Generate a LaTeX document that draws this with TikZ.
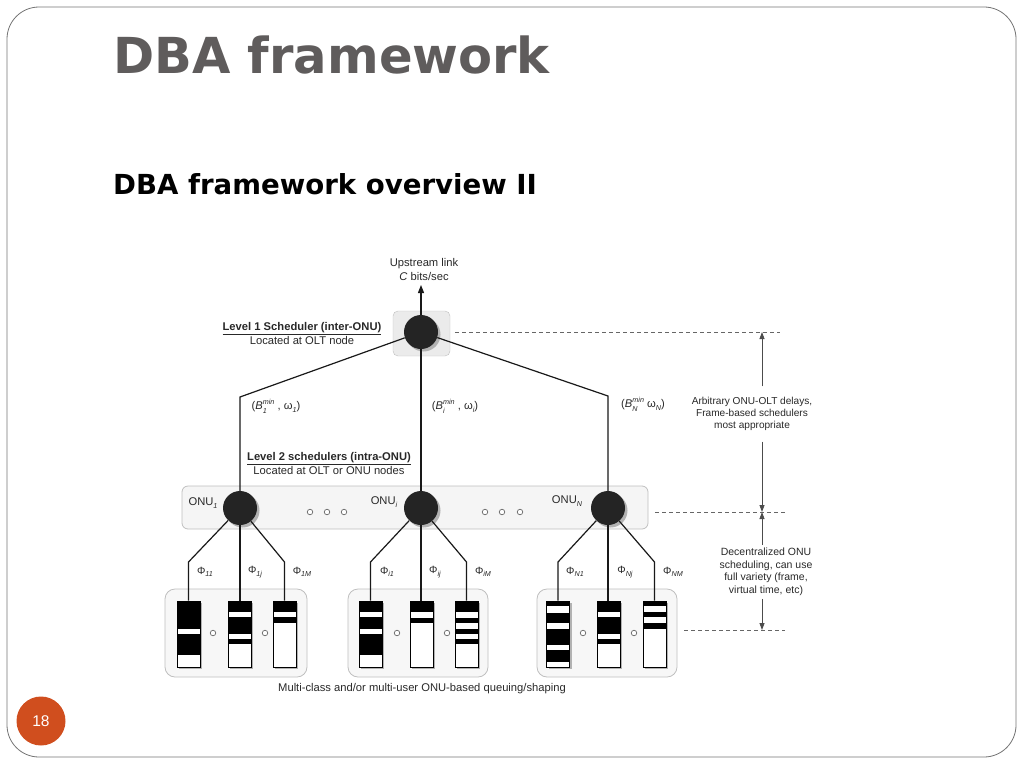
\documentclass[tikz,border=0pt]{standalone}
\usepackage{fontspec}
\setmainfont{Liberation Sans}
\newfontfamily\titlefont{DejaVu Sans}
\usetikzlibrary{arrows.meta,shadows,calc}
\definecolor{titlegray}{RGB}{95,92,92}
\definecolor{pageorange}{RGB}{208,78,30}
\definecolor{nodedark}{RGB}{36,36,36}
\definecolor{textgray}{RGB}{40,40,40}
\newsavebox\supbox
\newsavebox\subbox
\newcommand\supsub[2]{%
  \sbox\supbox{\fontsize{7.2}{7.2}\selectfont\itshape #1}%
  \sbox\subbox{\fontsize{7.2}{7.2}\selectfont\itshape #2}%
  \rlap{\raisebox{0.95ex}{\usebox\supbox}}\raisebox{-0.55ex}{\usebox\subbox}%
  \ifdim\wd\supbox>\wd\subbox\kern\dimexpr\wd\supbox-\wd\subbox\relax\fi}
\newcommand\subi[1]{\raisebox{-0.45ex}{\fontsize{7.2}{7.2}\selectfont\itshape #1}}
\newcommand\qbars[2]{\foreach \a/\b in {#2} {\fill[black] ([yshift=-\a pt]#1.north west) rectangle ([yshift=-\b pt]#1.north east);}}
\begin{document}
\begin{tikzpicture}[x=1pt,y=-1pt,
  lbl/.style={font=\fontsize{11.2}{14}\selectfont, text=textgray, align=center, inner sep=0pt},
  note/.style={font=\fontsize{10.1}{11.8}\selectfont, text=textgray, align=center, inner xsep=1pt},
  sched/.style={circle, fill=nodedark, minimum size=34pt, inner sep=0pt,
    drop shadow={shadow xshift=2.5pt, shadow yshift=-2.5pt, fill=black!30, opacity=1}},
  wire/.style={draw=black!90, line width=1.2pt},
  queuebox/.style={draw=black, line width=0.8pt, fill=white, minimum width=23pt, minimum height=66pt, inner sep=0pt,
    drop shadow={shadow xshift=2pt, shadow yshift=-2pt, fill=black!30, opacity=1}},
  groupbox/.style={draw=black!25, fill=black!3, rounded corners=10pt, line width=0.8pt, minimum height=88pt, inner sep=0pt},
  dim/.style={draw=black!60, dash pattern=on 4pt off 3pt, line width=0.8pt},
  dimarrow/.style={draw=black!70, line width=0.8pt, -{Triangle[length=7pt,width=5pt]}},
  dotc/.style={circle, draw=black!60, fill=white, minimum size=5.5pt, inner sep=0pt, line width=0.7pt},
  phil/.style={font=\fontsize{10.5}{12}\selectfont, text=textgray, inner sep=0pt},
]
\useasboundingbox (0,0) rectangle (1024,768);
% slide frame
\draw[black!55, line width=0.8pt, rounded corners=32pt] (7,7) rectangle (1016,757);
% titles
\node[anchor=base west, text=titlegray, font=\titlefont\bfseries\fontsize{49.6}{50}\selectfont, inner sep=0pt] (title) at (113,74) {DBA framework};
\node[anchor=base west, text=black, font=\titlefont\bfseries\fontsize{27.6}{28}\selectfont, inner sep=0pt] (subtitle) at (113,194) {DBA framework overview II};
% page number
\node[circle, fill=pageorange, minimum size=49pt, inner sep=0pt, text=white, font=\fontsize{15.5}{15.5}\selectfont] (pg) at (41,721) {18};

% root
\node[draw=black!25, fill=black!8, rounded corners=5pt, minimum width=57pt, minimum height=45pt, inner sep=0pt] (rootbg) at (421.5,333.5) {};
\node[sched] (root) at (421,332) {};
\node[lbl] (up) at (424,269.5) {Upstream link\\\textit{C} bits/sec};
\coordinate (uptip) at (421,285);
\draw[wire, -{Triangle[length=8pt,width=6pt]}] (root.north) -- (uptip);
\node[lbl] (l1) at (302,333) {\underline{\textbf{Level 1 Scheduler (inter-ONU)}}\\Located at OLT node};

% ONU band
\node[draw=black!25, fill=black!4, rounded corners=6pt, minimum width=466pt, minimum height=43pt, inner sep=0pt, line width=0.8pt] (band) at (415,507.5) {};
\node[sched] (onu1) at (240,508) {};
\node[sched] (onui) at (421,508) {};
\node[sched] (onuN) at (608,508) {};
\node[lbl] (onu1l) at (203,503) {ONU\subi{1}};
\node[lbl] (onuil) at (384,502) {ONU\subi{i}};
\node[lbl] (onuNl) at (567,501) {ONU\subi{N}};
\foreach \x [count=\k] in {310,327,344,485,502,520} {\node[dotc] (bd\k) at (\x,512) {};}

% root to ONUs
\coordinate (c1) at (240,397);
\coordinate (cN) at (608,396);
\draw[wire] (root) -- (c1) -- (onu1);
\draw[wire] (root) -- (onui);
\draw[wire] (root) -- (cN) -- (onuN);
\node[lbl] (b1) at (276,406) {(\textit{B}\supsub{min}{1} , ω\subi{1})};
\node[lbl] (bi) at (455,406) {(\textit{B}\supsub{min}{i} , ω\subi{i})};
\node[lbl] (bN) at (643,404) {(\textit{B}\supsub{min}{N} ω\subi{N})};
\node[lbl] (l2) at (329,463.5) {\underline{\textbf{Level 2 schedulers (intra-ONU)}}\\Located at OLT or ONU nodes};

% queue groups
\node[groupbox, minimum width=142pt] (g1) at (236,633) {};
\node[groupbox, minimum width=140pt] (g2) at (418,633) {};
\node[groupbox, minimum width=140pt] (g3) at (607,633) {};
\foreach \x [count=\k] in {213,265,397,447,583,634} {\node[dotc] (qd\k) at (\x,633) {};}

\node[queuebox] (q11) at (188.5,634) {};
\node[queuebox] (q1j) at (239.5,634) {};
\node[queuebox] (q1M) at (284.5,634) {};
\node[queuebox] (qi1) at (370.5,634) {};
\node[queuebox] (qij) at (421.5,634) {};
\node[queuebox] (qiM) at (466.5,634) {};
\node[queuebox] (qN1) at (558,634) {};
\node[queuebox] (qNj) at (608.5,634) {};
\node[queuebox] (qNM) at (654.5,634) {};
\qbars{q11}{0/28,33/54}
\qbars{q1j}{0/11,16/33,38/43}
\qbars{q1M}{0/11,16/22}
\qbars{qi1}{0/11,16/28,33/54}
\qbars{qij}{0/11,17/22}
\qbars{qiM}{0/11,17/22,28/33,38/43}
\qbars{qN1}{0/5,12/22,28/44,49/61}
\qbars{qNj}{0/11,16/33,38/43}
\qbars{qNM}{0/5,11/16,22/28}

% ONU to queues
\coordinate (k11) at (188.5,562);
\coordinate (k1M) at (284.5,562);
\coordinate (ki1) at (370.5,562);
\coordinate (kiM) at (466.5,562);
\coordinate (kN1) at (558,562);
\coordinate (kNM) at (654.5,562);
\draw[wire] (onu1) -- (k11) -- (q11.north);
\draw[wire] (onu1) -- (onu1 |- q1j.north);
\draw[wire] (onu1) -- (k1M) -- (q1M.north);
\draw[wire] (onui) -- (ki1) -- (qi1.north);
\draw[wire] (onui) -- (onui |- qij.north);
\draw[wire] (onui) -- (kiM) -- (qiM.north);
\draw[wire] (onuN) -- (kN1) -- (qN1.north);
\draw[wire] (onuN) -- (onuN |- qNj.north);
\draw[wire] (onuN) -- (kNM) -- (qNM.north);

\node[phil] (p11) at (205,572) {Φ\subi{11}};
\node[phil] (p1j) at (255,572) {Φ\subi{1j}};
\node[phil] (p1M) at (302,572) {Φ\subi{1M}};
\node[phil] (pi1) at (387,572) {Φ\subi{i1}};
\node[phil] (pij) at (435,572) {Φ\subi{ij}};
\node[phil] (piM) at (483,572) {Φ\subi{iM}};
\node[phil] (pN1) at (575,572) {Φ\subi{N1}};
\node[phil] (pNj) at (625,572) {Φ\subi{Nj}};
\node[phil] (pNM) at (673,572) {Φ\subi{NM}};

\node[lbl] (cap) at (422,689) {Multi-class and/or multi-user ONU-based queuing/shaping};

% right-hand dimensions
\coordinate (r0) at (455,332);
\coordinate (r1) at (780,332);
\coordinate (s0) at (655,512);
\coordinate (s1) at (785,512);
\coordinate (t0) at (684,630);
\coordinate (t1) at (785,630);
\draw[dim] (r0) -- (r1);
\draw[dim] (s0) -- (s1);
\draw[dim] (t0) -- (t1);
\coordinate (d1) at (762,332);
\coordinate (d2) at (762,512);
\coordinate (d3) at (762,630);
\node[note, inner ysep=11pt] (n1) at (752,414) {Arbitrary ONU-OLT delays,\\Frame-based schedulers\\most appropriate};
\node[note, inner ysep=3pt, font=\fontsize{10.5}{12.5}\selectfont] (n2) at (766,572) {Decentralized ONU\\scheduling, can use\\full variety (frame,\\virtual time, etc)};
\draw[dimarrow] (n1.north -| d1) -- (d1);
\draw[dimarrow] (n1.south -| d1) -- (d2);
\draw[dimarrow] (n2.north -| d2) -- (d2);
\draw[dimarrow] (n2.south -| d3) -- (d3);
\end{tikzpicture}
\end{document}
